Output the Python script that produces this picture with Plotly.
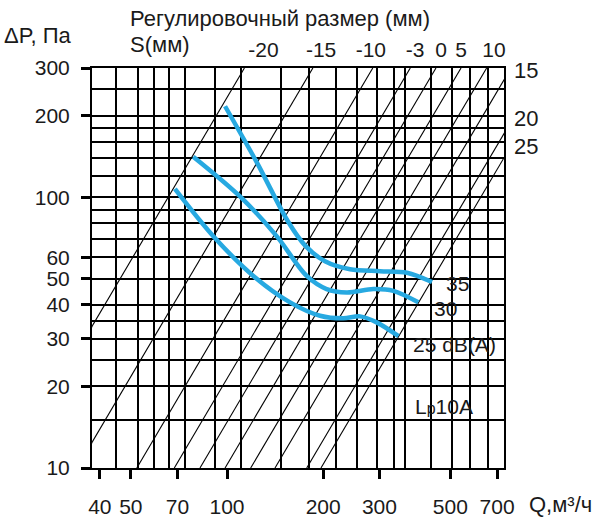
import numpy as np
import plotly.graph_objects as go

# ---------------- data ----------------
Q_RANGE = [37.8, 736]          # m3/h, visible x extent
DP_RANGE = [10, 300]           # Pa, visible y extent

Q_TICKS = [40, 50, 70, 100, 200, 300, 500, 700]
DP_TICKS = [10, 20, 30, 40, 50, 60, 100, 200, 300]

Q_GRID = [45, 52.5, 59, 66, 74, 92, 111, 148, 180, 219, 256, 294, 332, 361, 434, 505, 576, 657]
DP_GRID = [15, 20, 25, 30, 35, 40, 50, 60, 70, 80, 90, 100, 120, 140, 160, 180, 200, 250]

# regulating setting S (mm) labels along the top
S_LABELS = ['-20', '-15', '-10', '-3', '0', '5', '10']
S_LABEL_Q = [130, 197, 282, 388, 468, 540, 685]

# constant-setting lines dP ~ Q^2, given by flow at dP = 10 Pa
S_LINE_Q10 = [20.7, 33.9, 52.2, 68.4, 82.3, 98.6, 118.6, 141.3, 177.6, 196.8]

# noise curves
Q_35 = [98.6, 124.2, 155.2, 175.4, 202.6, 242.7, 301.2, 365.9, 438.1]
DP_35 = [216.7, 133.9, 81.3, 66.4, 58.0, 54.2, 53.3, 52.6, 48.6]
Q_30 = [78.4, 109.8, 143, 177.6, 205, 237, 287, 331.6, 397]
DP_30 = [141.2, 100.7, 71.8, 51.2, 45.8, 44.5, 45.8, 45.1, 40.9]
Q_25 = [68.7, 90.6, 120.9, 157.5, 195.5, 231, 261, 294, 344]
DP_25 = [107.4, 71.8, 51.2, 40.9, 36.5, 35.7, 36.3, 34.5, 30.7]

CURVE_LABELS = ['35', '30', '25 dB(A)']
RIGHT_LABELS = ['15', '20', '25']

# ---------------- figure ----------------
FONT = 'Liberation Sans, Arial, sans-serif'
TXT = '#1a1a1a'
BLUE = '#27a9e1'
fig = go.Figure()

for q10 in S_LINE_Q10:
    fig.add_trace(go.Scatter(
        x=[q10, q10 * np.sqrt(DP_RANGE[1] / DP_RANGE[0])], y=DP_RANGE,
        mode='lines', line=dict(color='black', width=1.1),
        hoverinfo='skip', showlegend=False))

for qs, ps in [(Q_35, DP_35), (Q_30, DP_30), (Q_25, DP_25)]:
    fig.add_trace(go.Scatter(
        x=qs, y=ps, mode='lines',
        line=dict(color=BLUE, width=4.5, shape='spline', smoothing=0.9),
        hoverinfo='skip', showlegend=False))

# helper trace for the top axis
fig.add_trace(go.Scatter(x=[100], y=[100], xaxis='x2', mode='markers',
                         marker=dict(opacity=0), hoverinfo='skip', showlegend=False))

log_q = [np.log10(v) for v in Q_RANGE]
log_p = [np.log10(v) for v in DP_RANGE]

fig.update_layout(
    width=600, height=530,
    margin=dict(l=92, r=96, t=68, b=60),
    paper_bgcolor='white', plot_bgcolor='white',
    font=dict(family=FONT, size=21, color=TXT),
    xaxis=dict(
        type='log', range=log_q,
        tickmode='array', tickvals=Q_TICKS, ticktext=[str(v) for v in Q_TICKS],
        ticks='outside', ticklen=9, tickwidth=3, tickcolor='black',
        ticklabelstandoff=10,
        showgrid=False, zeroline=False,
        showline=True, mirror=True, linecolor='black', linewidth=2,
        minor=dict(tickmode='array', tickvals=Q_GRID, showgrid=True,
                   gridcolor='black', gridwidth=1.6, ticks=''),
    ),
    xaxis2=dict(
        type='log', range=log_q, overlaying='x', side='top', anchor='y',
        tickmode='array', tickvals=S_LABEL_Q, ticktext=S_LABELS,
        ticks='', showgrid=False, showline=False, zeroline=False,
        ticklabelstandoff=6,
    ),
    yaxis=dict(
        type='log', range=log_p,
        tickmode='array', tickvals=DP_TICKS, ticktext=[str(v) for v in DP_TICKS],
        ticks='outside', ticklen=9, tickwidth=3, tickcolor='black',
        ticklabelstandoff=7,
        showgrid=False, zeroline=False,
        showline=True, mirror=True, linecolor='black', linewidth=2,
        minor=dict(tickmode='array', tickvals=DP_GRID, showgrid=True,
                   gridcolor='black', gridwidth=1.6, ticks=''),
    ),
)

def ann(text, x, y, size=21, xanchor='center'):
    fig.add_annotation(text=text, xref='paper', yref='paper', x=x, y=y,
                       xanchor=xanchor, yanchor='middle', showarrow=False,
                       font=dict(family=FONT, size=size, color=TXT))

ann('ΔP, Па', -0.131, 1.082, 22)
ann('Регулировочный размер (мм)', 0.088, 1.124, 22, xanchor='left')
ann('S(мм)', 0.088, 1.058, 22, xanchor='left')
ann('Q,м³/ч', 1.136, -0.092, 22)
for t, yv in zip(RIGHT_LABELS, [0.995, 0.873, 0.803]):
    ann(t, 1.053, yv, 22)
for t, (xv, yv) in zip(CURVE_LABELS, [(0.886, 0.462), (0.857, 0.398), (0.879, 0.308)]):
    ann(t, xv, yv, 21)
ann('L<span style="font-size:16px">p</span>10A', 0.854, 0.154, 21)

fig.write_html('out.html')
